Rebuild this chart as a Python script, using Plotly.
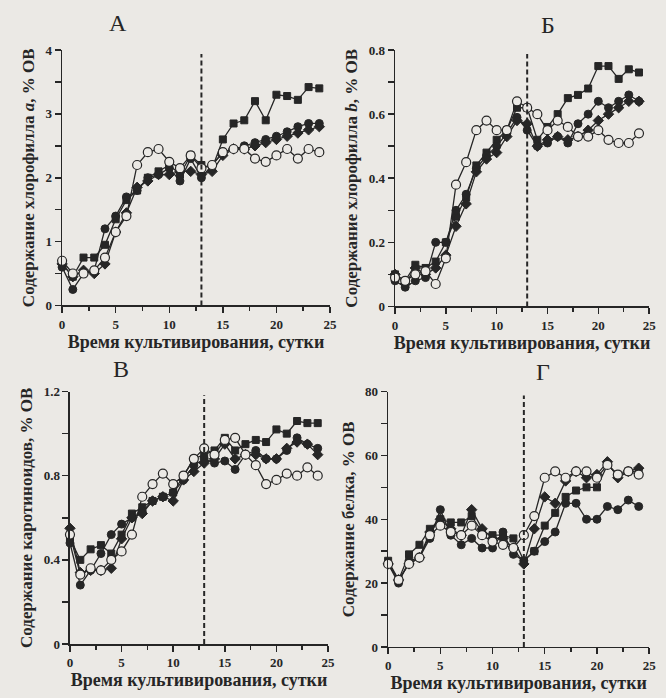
import plotly.graph_objects as go

days = list(range(25))

# Panel А: chlorophyll a
chl_a_sq = [0.65, 0.45, 0.75, 0.75, 0.95, 1.35, 1.65, 1.8, 2.0, 2.1, 2.2, 2.05, 2.35, 2.2, 2.15, 2.6, 2.85, 2.9, 3.2, 2.9, 3.3, 3.28, 3.22, 3.42, 3.4]
chl_a_ci = [0.6, 0.25, 0.5, 0.55, 1.2, 1.4, 1.7, 1.8, 2.0, 2.05, 2.15, 1.95, 2.3, 2.0, 2.2, 2.4, 2.45, 2.5, 2.55, 2.6, 2.65, 2.72, 2.8, 2.85, 2.85]
chl_a_di = [0.65, 0.45, 0.55, 0.5, 0.65, 1.15, 1.45, 1.85, 1.95, 2.05, 2.05, 2.1, 2.1, 2.05, 2.1, 2.35, 2.45, 2.45, 2.5, 2.55, 2.6, 2.65, 2.7, 2.75, 2.8]
chl_a_oc = [0.7, 0.5, 0.5, 0.55, 0.75, 1.15, 1.4, 2.2, 2.4, 2.45, 2.25, 2.15, 2.35, 2.15, 2.2, 2.4, 2.45, 2.45, 2.3, 2.25, 2.35, 2.45, 2.3, 2.45, 2.4]

# Panel Б: chlorophyll b
chl_b_sq = [0.1, 0.08, 0.13, 0.12, 0.14, 0.2, 0.28, 0.34, 0.44, 0.48, 0.52, 0.55, 0.62, 0.62, 0.52, 0.56, 0.6, 0.65, 0.66, 0.68, 0.75, 0.75, 0.71, 0.74, 0.73]
chl_b_ci = [0.08, 0.06, 0.08, 0.09, 0.2, 0.2, 0.3, 0.35, 0.43, 0.47, 0.5, 0.54, 0.59, 0.55, 0.5, 0.51, 0.53, 0.51, 0.57, 0.6, 0.64, 0.62, 0.64, 0.66, 0.64]
chl_b_di = [0.1, 0.07, 0.12, 0.1, 0.12, 0.16, 0.25, 0.32, 0.42, 0.46, 0.48, 0.53, 0.58, 0.57, 0.5, 0.52, 0.53, 0.52, 0.53, 0.55, 0.58, 0.6, 0.62, 0.64, 0.64]
chl_b_oc = [0.09, 0.08, 0.1, 0.11, 0.07, 0.15, 0.38, 0.45, 0.55, 0.58, 0.55, 0.55, 0.64, 0.62, 0.6, 0.55, 0.58, 0.56, 0.53, 0.53, 0.55, 0.52, 0.51, 0.51, 0.54]

# Panel В: carotenoids
car_sq = [0.5, 0.4, 0.45, 0.47, 0.43, 0.52, 0.62, 0.65, 0.68, 0.7, 0.72, 0.8, 0.88, 0.9, 0.92, 0.98, 0.92, 0.95, 0.97, 0.96, 1.02, 1.0, 1.06, 1.05, 1.05]
car_ci = [0.48, 0.28, 0.35, 0.43, 0.52, 0.57, 0.6, 0.63, 0.68, 0.7, 0.72, 0.78, 0.85, 0.88, 0.86, 0.87, 0.83, 0.9, 0.92, 0.88, 0.88, 0.92, 0.98, 0.95, 0.93]
car_di = [0.55, 0.34, 0.35, 0.35, 0.36, 0.5, 0.6, 0.62, 0.68, 0.7, 0.68, 0.78, 0.82, 0.86, 0.88, 0.95, 0.88, 0.9, 0.9, 0.88, 0.88, 0.93, 0.96, 0.95, 0.9]
car_oc = [0.52, 0.33, 0.36, 0.35, 0.4, 0.44, 0.52, 0.7, 0.76, 0.81, 0.76, 0.8, 0.88, 0.93, 0.9, 0.97, 0.98, 0.9, 0.85, 0.76, 0.78, 0.81, 0.8, 0.84, 0.8]

# Panel Г: protein
prot_sq = [27, 21, 29, 32, 37, 40, 39, 39, 41, 36, 35, 35, 34, 27, 30, 38, 42, 47, 49, 50, 50, 57, 54, 55, 55]
prot_ci = [26, 20, 27, 28, 34, 43, 35, 32, 34, 31, 31, 36, 29, 27, 30, 33, 36, 45, 45, 40, 40, 44, 43, 46, 44]
prot_di = [26, 21, 26, 28, 36, 40, 37, 35, 43, 37, 34, 34, 31, 26, 37, 47, 45, 52, 55, 53, 54, 58, 53, 55, 56]
prot_oc = [26, 21, 26, 28, 35, 38, 36, 35, 38, 35, 33, 32, 31, 35, 41, 53, 55, 53, 55, 55, 53, 57, 54, 55, 54]

panel_letters = ["А", "Б", "В", "Г"]
y_titles = ["Содержание хлорофилла <i>a</i>, % ОВ", "Содержание хлорофилла <i>b</i>, % ОВ",
            "Содержание каротиноидов, % ОВ", "Содержание белка, % ОВ"]
x_title = "Время культивирования, сутки"
switch_day = 13

BG = "#ebe9e5"
INK = "#262626"
FONT = "Liberation Serif"

panels = [
    dict(data=[chl_a_sq, chl_a_ci, chl_a_di, chl_a_oc], ymax=4, dtick=1, minor=0.5,
         xd=[60/666, 332/666], yd=[1-305/698, 1-44/698], letter_xy=(117, 16)),
    dict(data=[chl_b_sq, chl_b_ci, chl_b_di, chl_b_oc], ymax=0.8, dtick=0.2, minor=0.1,
         xd=[398/666, 656/666], yd=[1-306/698, 1-44/698], letter_xy=(553, 18)),
    dict(data=[car_sq, car_ci, car_di, car_oc], ymax=1.2, dtick=0.4, minor=0.2,
         xd=[68/666, 330/666], yd=[1-651/698, 1-393/698], letter_xy=(120, 370)),
    dict(data=[prot_sq, prot_ci, prot_di, prot_oc], ymax=80, dtick=20, minor=10,
         xd=[391/666, 656/666], yd=[1-654/698, 1-393/698], letter_xy=(548, 373)),
]

styles = [
    dict(symbol="square", size=7, color=INK, line=dict(color=INK, width=1)),
    dict(symbol="circle", size=8, color=INK, line=dict(color=INK, width=1)),
    dict(symbol="diamond", size=8, color=INK, line=dict(color=INK, width=1)),
    dict(symbol="circle", size=9, color=BG, line=dict(color=INK, width=1.2)),
]

fig = go.Figure()
layout = {}
shapes = []
annotations = []
for i, p in enumerate(panels):
    k = "" if i == 0 else str(i + 1)
    xa, ya = "x" + k, "y" + k
    for s, vals in zip(styles, p["data"]):
        fig.add_trace(go.Scatter(x=days, y=vals, mode="lines+markers", xaxis=xa, yaxis=ya,
                                 line=dict(color=INK, width=1.3), marker=s,
                                 cliponaxis=False, showlegend=False, hoverinfo="skip"))
    tickfont = dict(family=FONT, size=13, color=INK, weight="bold")
    layout["xaxis" + k] = dict(domain=p["xd"], anchor=ya, range=[0, 25], tick0=0, dtick=5,
                               ticks="outside", ticklen=6, tickwidth=1.5, tickcolor=INK,
                               minor=dict(dtick=2.5, tick0=0, ticks="outside", ticklen=4, tickwidth=1.5, tickcolor=INK),
                               showline=True, linecolor=INK, linewidth=1.5, showgrid=False, zeroline=False,
                               tickfont=tickfont, fixedrange=True,
                               title=dict(text=x_title, standoff=1,
                                          font=dict(family=FONT, size=18, color=INK, weight="bold")))
    layout["yaxis" + k] = dict(domain=p["yd"], anchor=xa, range=[0, p["ymax"]], tick0=0, dtick=p["dtick"],
                               ticks="outside", ticklen=6, tickwidth=1.5, tickcolor=INK,
                               minor=dict(dtick=p["minor"], tick0=0, ticks="outside", ticklen=6, tickwidth=1.5, tickcolor=INK),
                               showline=True, linecolor=INK, linewidth=1.5, showgrid=False, zeroline=False,
                               tickfont=tickfont, fixedrange=True,
                               title=dict(text=y_titles[i], standoff=6,
                                          font=dict(family=FONT, size=17, color=INK, weight="bold")))
    shapes.append(dict(type="line", xref=xa, yref=ya, x0=switch_day, x1=switch_day, y0=0, y1=p["ymax"] * 0.985,
                       line=dict(color=INK, width=2, dash="5px,3px")))
    lx, ly = p["letter_xy"]
    annotations.append(dict(text=panel_letters[i], xref="paper", yref="paper", x=lx / 666, y=1 - ly / 698,
                            showarrow=False, xanchor="center", yanchor="middle",
                            font=dict(family=FONT, size=24, color=INK)))

fig.update_layout(**layout)
fig.update_layout(width=666, height=698, margin=dict(l=0, r=0, t=0, b=0),
                  paper_bgcolor=BG, plot_bgcolor=BG, shapes=shapes, annotations=annotations,
                  showlegend=False, hovermode=False)
fig.write_html("out.html", config={"displayModeBar": False, "staticPlot": True},
               post_script="document.body.style.margin='0';document.body.style.background='" + BG + "';")
